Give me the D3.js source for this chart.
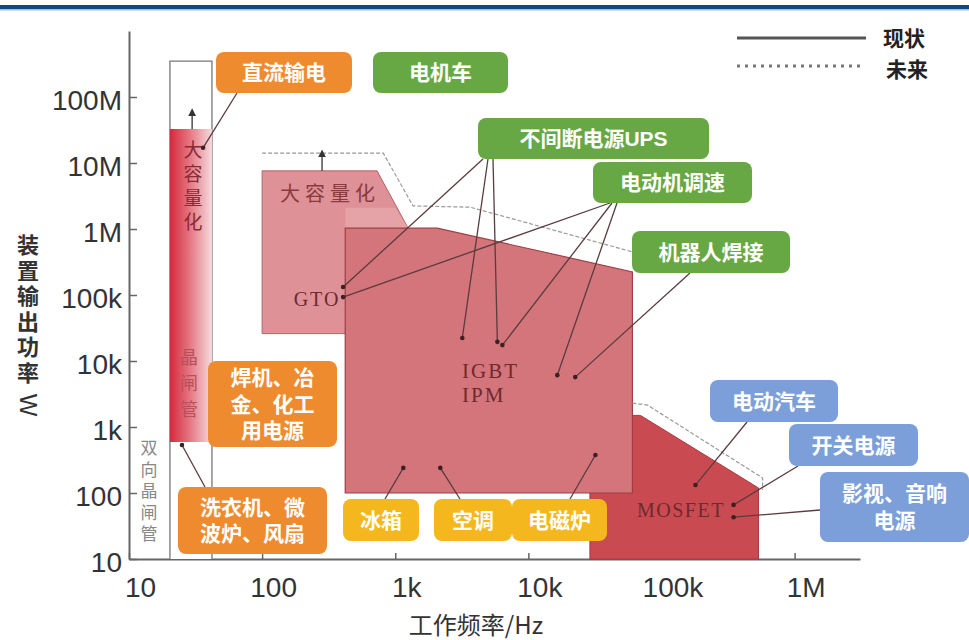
<!DOCTYPE html>
<html>
<meta charset="utf-8">
<title>power devices</title>
<style>
html,body{ margin:0; background:#fff; }
svg { display:block; background:#fff; }
.tick text { font-family: "Liberation Sans", Arial, sans-serif; font-size:28px; fill:#333; }
.tick line { stroke:#666; stroke-width:1.5; }
.domain { stroke:#666; stroke-width:2; fill:none; }
.note text { font-family:"Liberation Sans", "Noto Sans CJK SC", sans-serif; font-weight:700; font-size:21px; fill:#fff; }
.serif { font-family:"Liberation Serif", "DejaVu Serif", serif; fill:#6e2a2e; }
.cjk { font-family:"Noto Sans CJK SC", sans-serif; }
.vert { writing-mode: vertical-rl; text-orientation: upright; }
</style>
<script src="https://cdn.jsdelivr.net/npm/d3@7"></script>
<body>
<script>

// ---- data (frequency in Hz, power in W) ----
var xTickValues = [10, 100, 1e3, 1e4, 1e5, 1e6];
var xTickLabels = ["10", "100", "1k", "10k", "100k", "1M"];
var yTickValues = [10, 100, 1e3, 1e4, 1e5, 1e6, 1e7, 1e8];
var yTickLabels = ["10", "100", "1k", "10k", "100k", "1M", "10M", "100M"];

// present state of each device
var thyristorNow = [[20.3, 593], [42, 593], [42, 3.27e7], [20.3, 3.27e7]];
var gtoNow = [[100, 7.6e6], [730, 7.6e6], [1250, 1.03e6], [1250, 2.6e4], [100, 2.6e4]];
var gtoOverlap = [[421, 2.1e6], [1000, 2.1e6], [1250, 1.03e6], [421, 1.03e6]];
var igbtNow = [[421, 1.03e6], [2070, 1.03e6], [60500, 2.24e5], [60500, 100], [421, 100]];
var mosfetNow = [[29000, 1500], [69500, 1500], [536000, 119], [536000, 10], [29000, 10]];

// future limits
var thyristorFuture = [[20.3, 10], [20.3, 3.5e8], [42, 3.5e8], [42, 10]];
var gtoIgbtFuture = [[100, 1.41e7], [813, 1.41e7], [1360, 2.24e6], [3660, 2.14e6], [69500, 4.17e5]];
var mosfetFuture = [[60500, 2300], [78500, 2150], [575000, 169], [575000, 111]];

// capacity growth arrows [freq, from power, to power]
var growArrows = [[29.8, 3.27e7, 5.9e7], [282, 7.6e6, 1.4e7]];

// annotation boxes
var noteTexts = [
  ["直流输电"], ["电机车"], ["不间断电源UPS"], ["电动机调速"], ["机器人焊接"],
  ["焊机、冶", "金、化工", "用电源"], ["洗衣机、微", "波炉、风扇"],
  ["冰箱"], ["空调"], ["电磁炉"],
  ["电动汽车"], ["开关电源"], ["影视、音响", "电源"]
];
// application targets on the chart [note index, freq, power]
var targets = [
  [0, 36, 1.7e7],
  [2, 406, 1.32e5], [2, 3190, 2.23e4], [2, 5850, 1.95e4],
  [3, 406, 9.3e4], [3, 6380, 1.74e4], [3, 16500, 6100],
  [4, 22500, 5700],
  [6, 25, 534],
  [7, 1150, 240], [8, 2180, 240], [9, 31900, 377],
  [10, 180000, 132], [11, 348000, 66], [12, 348000, 43]
];

// ---- layout ----
var width = 969, height = 640;
var orange = "#ef8b2f", green = "#67a845", yellow = "#f5b71e", blue = "#7c9fd9";
var noteBoxes = [
  {x:216, y:52, w:136, h:41, c:orange}, {x:373, y:52, w:135, h:41, c:green},
  {x:478, y:118, w:231, h:41, c:green}, {x:593, y:162, w:159, h:41, c:green},
  {x:632, y:231, w:158, h:42, c:green},
  {x:208, y:361, w:129, h:86, c:orange}, {x:178, y:487, w:149, h:67, c:orange},
  {x:343, y:499, w:76, h:42, c:yellow}, {x:434, y:499, w:78, h:42, c:yellow},
  {x:512, y:499, w:95, h:42, c:yellow},
  {x:710, y:380, w:128, h:42, c:blue}, {x:789, y:424, w:129, h:42, c:blue},
  {x:820, y:472, w:149, h:70, c:blue}
];
// where each leader line leaves its box (same order as targets)
var leaderStarts = [
  [237, 93],
  [483, 159], [488, 159], [493, 159],
  [610, 203], [612, 203], [617, 203],
  [690, 273],
  [205, 487],
  [385, 499], [460, 499], [570, 499],
  [747, 422], [798, 466], [820, 510]
];

var x = d3.scaleLog().domain([10, 3.1e6]).range([129, 860]);
var y = d3.scaleLog().domain([10, 1e9]).range([559, 31]);

var svg = d3.select("body").append("svg")
    .attr("width", width)
    .attr("height", height);

// header bar
svg.append("rect").attr("x", 0).attr("y", 5).attr("width", width).attr("height", 4).attr("fill", "#0d4a80");
svg.append("rect").attr("x", 0).attr("y", 9).attr("width", width).attr("height", 1.5).attr("fill", "#9cc0e0");

var defs = svg.append("defs");
var grad = defs.append("linearGradient").attr("id", "thy").attr("x1", "0").attr("x2", "1").attr("y1", "0").attr("y2", "0");
grad.append("stop").attr("offset", "0").attr("stop-color", "#d42a3d");
grad.append("stop").attr("offset", "0.45").attr("stop-color", "#e4737f");
grad.append("stop").attr("offset", "1").attr("stop-color", "#f6dadd");

var line = d3.line().x(function(d){ return x(d[0]); }).y(function(d){ return y(d[1]); });
var poly = function(pts){ return line(pts) + "Z"; };

// axes
svg.append("g")
    .attr("transform", "translate(129,0)")
    .call(d3.axisLeft(y).tickValues(yTickValues)
      .tickFormat(function(d, i){ return yTickLabels[i]; })
      .tickSizeInner(-8).tickSizeOuter(0).tickPadding(7))
    .selectAll(".tick text").attr("dy", "0.45em");

svg.append("g")
    .attr("transform", "translate(0,559)")
    .call(d3.axisBottom(x).tickValues(xTickValues)
      .tickFormat(function(d, i){ return xTickLabels[i]; })
      .tickSizeInner(-6).tickSizeOuter(0).tickPadding(18))
    .selectAll(".tick text").attr("dx", 11);

// thyristor future outline
svg.append("path").attr("d", line(thyristorFuture))
    .attr("fill", "#fff").attr("stroke", "#777").attr("stroke-width", 1.3);

// thyristor
svg.append("path").attr("d", poly(thyristorNow)).attr("fill", "url(#thy)");

// GTO
svg.append("path").attr("d", poly(gtoNow)).attr("fill", "#de9196")
    .attr("stroke", "#b76268").attr("stroke-width", 1);
svg.append("path").attr("d", poly(gtoOverlap)).attr("fill", "#e5a3a7");

// MOSFET then IGBT over it
svg.append("path").attr("d", poly(mosfetNow)).attr("fill", "#c94b51")
    .attr("stroke", "#a8383e").attr("stroke-width", 1);
svg.append("path").attr("d", poly(igbtNow)).attr("fill", "#d3757a")
    .attr("stroke", "#9c4046").attr("stroke-width", 1.2);

// future lines
[gtoIgbtFuture, mosfetFuture].forEach(function(f){
  svg.append("path").attr("d", line(f)).attr("fill", "none")
      .attr("stroke", "#999").attr("stroke-width", 1.2).attr("stroke-dasharray", "4,2");
});

// growth arrows
defs.append("marker").attr("id", "up").attr("viewBox", "0 0 6 6").attr("refX", 3).attr("refY", 3)
    .attr("markerWidth", 6).attr("markerHeight", 6).attr("orient", "auto")
  .append("path").attr("d", "M0,0L6,3L0,6Z").attr("fill", "#333");
growArrows.forEach(function(a){
  svg.append("line").attr("x1", x(a[0])).attr("x2", x(a[0]))
      .attr("y1", y(a[1])).attr("y2", y(a[2]))
      .attr("stroke", "#333").attr("stroke-width", 1.3).attr("marker-end", "url(#up)");
});

// vertical text: cx = column centre, c0 = centre of first glyph, step = glyph pitch
var vText = function(str, cx, c0, step, size, color, weight){
  svg.append("text").attr("class", "cjk vert")
      .attr("x", cx).attr("y", c0 - size / 2)
      .attr("font-size", size).attr("font-weight", weight || 400)
      .attr("letter-spacing", step - size)
      .attr("fill", color).text(str);
};
vText("大容量化", 193, 150, 24, 19, "#8b2a35");
vText("晶闸管", 189, 357, 26, 18, "#b9505d");
vText("双向晶闸管", 149, 448, 21.5, 17, "#888");

svg.append("text").attr("class", "cjk").attr("x", 330).attr("y", 192)
    .attr("text-anchor", "middle").attr("dominant-baseline", "central")
    .attr("font-size", 20).attr("letter-spacing", 5).attr("fill", "#8a3a3e").text("大容量化");
svg.append("text").attr("class", "serif").attr("x", 317).attr("y", 306)
    .attr("text-anchor", "middle").attr("font-size", 20).attr("letter-spacing", 2).text("GTO");
svg.append("text").attr("class", "serif").attr("x", 462).attr("y", 378)
    .attr("font-size", 21).attr("letter-spacing", 2).text("IGBT");
svg.append("text").attr("class", "serif").attr("x", 462).attr("y", 402)
    .attr("font-size", 21).attr("letter-spacing", 2).text("IPM");
svg.append("text").attr("class", "serif").attr("x", 637).attr("y", 517)
    .attr("font-size", 20).attr("letter-spacing", 1.5).text("MOSFET");

// leader lines
targets.forEach(function(t, i){
  var s = leaderStarts[i];
  svg.append("line").attr("x1", s[0]).attr("y1", s[1])
      .attr("x2", x(t[1])).attr("y2", y(t[2]))
      .attr("stroke", "#5a3c3e").attr("stroke-width", 1.3);
  svg.append("circle").attr("cx", x(t[1])).attr("cy", y(t[2])).attr("r", 2.3).attr("fill", "#3a2224");
});

// note boxes
var notes = svg.selectAll("g.note").data(noteBoxes).enter().append("g").attr("class", "note");
notes.append("rect")
    .attr("x", function(d){ return d.x; }).attr("y", function(d){ return d.y; })
    .attr("width", function(d){ return d.w; }).attr("height", function(d){ return d.h; })
    .attr("rx", 8).attr("fill", function(d){ return d.c; });
notes.each(function(d, i){
  var lines = noteTexts[i], step = 26.5;
  var top = d.y + d.h / 2 - (lines.length - 1) * step / 2;
  var t = d3.select(this).append("text").attr("text-anchor", "middle");
  lines.forEach(function(l, j){
    t.append("tspan").attr("x", d.x + d.w / 2).attr("y", top + j * step + 7.5).text(l);
  });
});

// legend
svg.append("line").attr("x1", 737).attr("x2", 866).attr("y1", 38).attr("y2", 38)
    .attr("stroke", "#555").attr("stroke-width", 3);
svg.append("line").attr("x1", 737).attr("x2", 864).attr("y1", 66).attr("y2", 66)
    .attr("stroke", "#777").attr("stroke-width", 3).attr("stroke-dasharray", "3,5");
svg.append("text").attr("class", "cjk").attr("x", 883).attr("y", 37).attr("dominant-baseline", "central")
    .attr("font-size", 21).attr("font-weight", 700).attr("fill", "#222").text("现状");
svg.append("text").attr("class", "cjk").attr("x", 886).attr("y", 68).attr("dominant-baseline", "central")
    .attr("font-size", 21).attr("font-weight", 700).attr("fill", "#222").text("未来");

// axis titles
vText("装置输出功率", 28, 245, 25.5, 22, "#333", 700);
svg.append("text").attr("transform", "translate(28,405) rotate(90)")
    .attr("text-anchor", "middle").attr("dominant-baseline", "central")
    .attr("font-family", "Liberation Sans, sans-serif").attr("font-size", 24).attr("fill", "#333").text("W");
svg.append("text").attr("class", "cjk").attr("x", 476).attr("y", 634)
    .attr("text-anchor", "middle").attr("font-size", 24).attr("fill", "#333").text("工作频率/Hz");

</script>
</body>
</html>
